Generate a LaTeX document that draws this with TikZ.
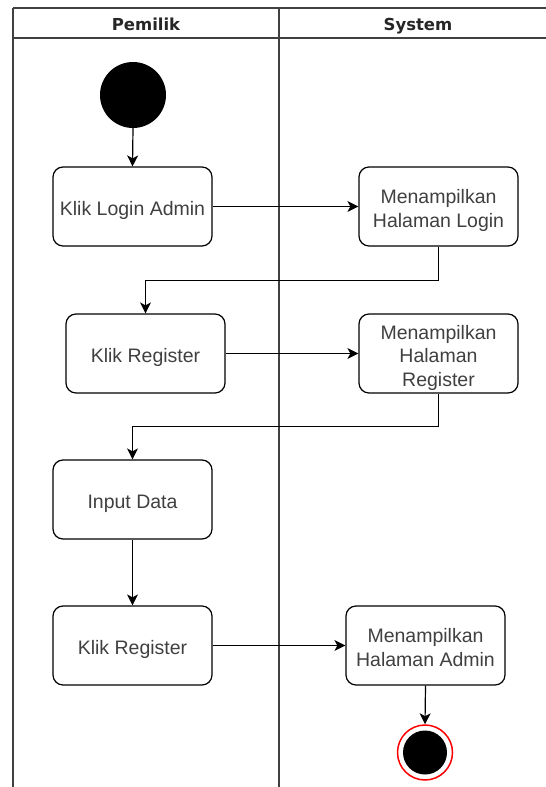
\documentclass[tikz,border=0pt]{standalone}
\usepackage{fontspec}
\setmainfont{Liberation Sans}
\newfontfamily\headfont{DejaVu Sans}
\usetikzlibrary{arrows.meta}
% action label: centred lines, set a little below the box centre
\newcommand{\acttext}[1]{\raisebox{-9.5pt}[0pt][0pt]{\begin{tabular}{@{}c@{}}#1\end{tabular}}}
\begin{document}
\begin{tikzpicture}[x=1pt,y=-1pt,
  lane/.style={draw=black!75,line width=1.4pt},
  lanetitle/.style={anchor=base,font=\headfont\bfseries\fontsize{16.5}{20}\selectfont,text=black!85},
  action/.style={draw=black,line width=1.2pt,rounded corners=10pt,fill=white,
    minimum width=159pt,minimum height=79pt,inner sep=2pt,
    text=black!75,font=\fontsize{19.5}{23.5}\selectfont},
  flow/.style={draw=black,line width=1.2pt,-{Stealth[length=11pt,width=11pt,inset=3pt]}}]
  \useasboundingbox (0,0) rectangle (546,787);

  % swimlane frame
  \draw[lane] (13,8) -- (546,8);
  \draw[lane] (13,38) -- (546,38);
  \draw[lane] (13,8) -- (13,787);
  \draw[lane] (279,8) -- (279,787);
  \node[lanetitle] (hpemilik) at (146,30) {Pemilik};
  \node[lanetitle] (hsystem) at (418,30) {System};

  % initial state
  \node[circle,fill=black,minimum size=66pt,inner sep=0pt] (start) at (133,95) {};

  % actions
  \node[action] (login) at (132.5,206.5) {\acttext{Klik Login Admin}};
  \node[action] (showlogin) at (438.5,206.5) {\acttext{Menampilkan\\Halaman Login}};
  \node[action] (reg1) at (145.5,353.5) {\acttext{Klik Register}};
  \node[action] (showreg) at (438.5,353.5) {\acttext{Menampilkan\\Halaman\\Register}};
  \node[action] (input) at (132.5,499.5) {\acttext{Input Data}};
  \node[action] (reg2) at (132.5,645.5) {\acttext{Klik Register}};
  \node[action] (showadmin) at (425.5,645.5) {\acttext{Menampilkan\\Halaman Admin}};

  % final state
  \node[circle,draw=red,line width=1.5pt,fill=white,minimum size=55pt,inner sep=0pt] (final) at (425,752.5) {};
  \node[circle,fill=black,minimum size=44pt,inner sep=0pt] (finaldot) at (final.center) {};

  % control flow
  \draw[flow] (start.south) -- (login.north);
  \draw[flow] (login.east) -- (showlogin.west);
  \draw[flow] (showlogin.south) -- ++(0,34) -| (reg1.north);
  \draw[flow] (reg1.east) -- (showreg.west);
  \draw[flow] (showreg.south) -- ++(0,33) -| (input.north);
  \draw[flow] (input.south) -- (reg2.north);
  \draw[flow] (reg2.east) -- (showadmin.west);
  \draw[flow] (showadmin.south) -- (final.north);
\end{tikzpicture}
\end{document}
